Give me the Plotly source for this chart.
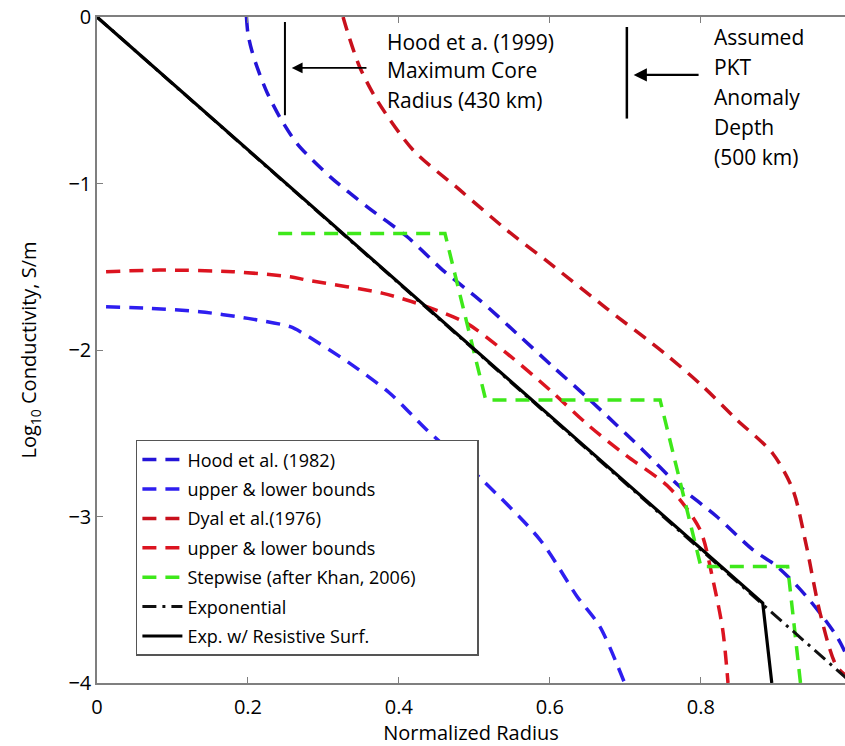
import plotly.graph_objects as go

# ---------------- data ----------------
hood_x = [0.198, 0.200, 0.205, 0.212, 0.225, 0.242, 0.265, 0.309, 0.358, 0.411, 0.458,
          0.507, 0.556, 0.604, 0.653, 0.723, 0.772, 0.821, 0.869, 0.901, 0.940, 0.980, 1.0]
hood_y = [0.0, -0.10, -0.20, -0.30, -0.45, -0.60, -0.76, -0.96, -1.14, -1.32, -1.52,
          -1.70, -1.90, -2.10, -2.30, -2.60, -2.82, -3.00, -3.20, -3.30, -3.48, -3.72, -3.90]

hood_b_x = [0.012, 0.07, 0.136, 0.20, 0.256, 0.273, 0.335, 0.388, 0.437, 0.508,
            0.587, 0.636, 0.666, 0.699]
hood_b_y = [-1.74, -1.75, -1.77, -1.81, -1.86, -1.90, -2.08, -2.26, -2.48, -2.77,
            -3.14, -3.48, -3.66, -4.0]

dyal_x = [0.326, 0.334, 0.348, 0.371, 0.419, 0.481, 0.543, 0.600, 0.675, 0.752,
          0.803, 0.848, 0.895, 0.922, 0.940, 0.958, 0.980, 1.0]
dyal_y = [0.0, -0.12, -0.30, -0.50, -0.80, -1.04, -1.28, -1.48, -1.75, -2.02,
          -2.22, -2.42, -2.62, -2.84, -3.18, -3.58, -3.90, -3.98]

dyal_b_x = [0.012, 0.083, 0.180, 0.256, 0.278, 0.379, 0.437, 0.490, 0.543, 0.600,
            0.653, 0.700, 0.759, 0.799, 0.816, 0.829, 0.836]
dyal_b_y = [-1.53, -1.52, -1.53, -1.56, -1.58, -1.66, -1.74, -1.84, -2.02, -2.24,
            -2.46, -2.63, -2.83, -3.08, -3.38, -3.68, -4.0]

step_x = [0.240, 0.461, 0.515, 0.746, 0.800, 0.915, 0.932]
step_y = [-1.30, -1.30, -2.30, -2.30, -3.30, -3.30, -4.0]

exp_x = [0.0, 1.0]
exp_y = [0.0, -4.0]

res_x = [0.0, 0.882, 0.894]
res_y = [0.0, -3.52, -4.0]

x_ticks = [0, 0.2, 0.4, 0.6, 0.8]
x_ticktext = ["0", "0.2", "0.4", "0.6", "0.8"]
y_ticks = [0, -1, -2, -3, -4]

FONT = "Open Sans"
PAD = "\u00a0" * 12   # widens the legend box like the reference

fig = go.Figure()

def add(x, y, name, color, dash, width=3.5, shape="spline"):
    fig.add_trace(go.Scatter(x=x, y=y, mode="lines", name=name, legendgroup=name,
                             line=dict(color=color, width=width, dash=dash,
                                       shape=shape, smoothing=0.8 if shape == "spline" else None)))

add(hood_x, hood_y, "Hood et al. (1982)", "#2414d8", "14px,9px")
add(hood_b_x, hood_b_y, "upper & lower bounds", "#2e1ef0", "14px,9px")
add(dyal_x, dyal_y, "Dyal et al.(1976)", "#c8101c", "14px,9px")
add(dyal_b_x, dyal_b_y, "upper & lower bounds ", "#dc1420", "14px,9px")
add(step_x, step_y, "Stepwise (after Khan, 2006)" + PAD, "#3ee81a", "14px,9px", shape="linear")
add(exp_x, exp_y, "Exponential", "#111111", "14px,6px,3px,6px", 3, shape="linear")
add(res_x, res_y, "Exp. w/ Resistive Surf.", "#000000", "solid", 3.2, shape="linear")

# annotation marker bars
fig.add_shape(type="line", x0=0.249, x1=0.249, y0=-0.03, y1=-0.59,
              line=dict(color="black", width=2))
fig.add_shape(type="line", x0=0.702, x1=0.702, y0=-0.06, y1=-0.61,
              line=dict(color="black", width=2.5))

fig.add_annotation(x=0.258, y=-0.306, ax=0.359, ay=-0.306, axref="x", ayref="y",
                   xref="x", yref="y", text="", showarrow=True, arrowhead=2,
                   arrowsize=1.2, arrowwidth=1.8, arrowcolor="black")
fig.add_annotation(x=0.711, y=-0.348, ax=0.799, ay=-0.348, axref="x", ayref="y",
                   xref="x", yref="y", text="", showarrow=True, arrowhead=2,
                   arrowsize=1.2, arrowwidth=2.2, arrowcolor="black")

hood_lines = ["Hood et a. (1999)", "Maximum Core", "Radius (430 km)"]
hood_ys = [-0.15, -0.32, -0.50]
for t, yy in zip(hood_lines, hood_ys):
    fig.add_annotation(x=0.381, y=yy, text=t, showarrow=False, xanchor="left",
                       yanchor="middle", font=dict(family=FONT, size=21, color="black"))

pkt_lines = ["Assumed", "PKT", "Anomaly", "Depth", "(500 km)"]
pkt_ys = [-0.12, -0.30, -0.48, -0.66, -0.84]
for t, yy in zip(pkt_lines, pkt_ys):
    fig.add_annotation(x=0.815, y=yy, text=t, showarrow=False, xanchor="left",
                       yanchor="middle", font=dict(family=FONT, size=21, color="black"))

axis_common = dict(showgrid=False, zeroline=False, showline=True, linecolor="#7f7f7f",
                   linewidth=1.5, ticks="inside", ticklen=6, tickcolor="#7f7f7f",
                   tickfont=dict(family=FONT, size=20, color="black"))

fig.update_layout(
    width=845, height=746,
    margin=dict(l=97, r=0, t=17, b=63),
    paper_bgcolor="white", plot_bgcolor="white",
    font=dict(family=FONT, color="black"),
    xaxis=dict(range=[0, 0.991], tickvals=x_ticks, ticktext=x_ticktext,
               mirror="ticks", ticklabelstandoff=5,
               title=dict(text="Normalized Radius", font=dict(family=FONT, size=20), standoff=9),
               **axis_common),
    yaxis=dict(range=[-4, 0], tickvals=y_ticks, mirror=False,
               title=dict(text="Log<sub>10</sub> Conductivity, S/m",
                          font=dict(family=FONT, size=20), standoff=26),
               **axis_common),
    showlegend=True,
    legend=dict(x=0.052, y=0.365, xanchor="left", yanchor="top",
                bgcolor="white", bordercolor="#555555", borderwidth=1.5,
                font=dict(family=FONT, size=18, color="black"),
                traceorder="grouped", tracegroupgap=3, itemwidth=40),
)

fig.write_html("out.html")
